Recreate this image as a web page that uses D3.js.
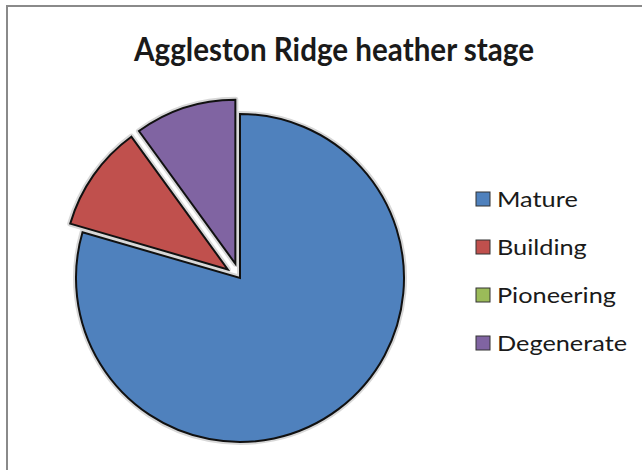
<!DOCTYPE html>
<html>
<head>
<meta charset="utf-8">
<script src="https://cdn.jsdelivr.net/npm/d3@7"></script>
<style>
html,body{margin:0;padding:0;background:#fff;}
svg{display:block;}
</style>
</head>
<body>
<script>
const title = "Aggleston Ridge heather stage";
const categories = ["Mature", "Building", "Pioneering", "Degenerate"];
const values = [79.5, 10.5, 0, 10];
const colors = ["#4F81BD", "#C0504D", "#9BBB59", "#8064A2"];
const explodedCategories = ["Building", "Degenerate"];

const W = 642, H = 470;
const svg = d3.select("body").append("svg").attr("width", W).attr("height", H);

// chart border (right/bottom edges fall outside the frame)
svg.append("rect").attr("x", 7).attr("y", 6).attr("width", W + 20).attr("height", H + 20)
  .attr("fill", "#fff").attr("stroke", "#8a8a8a").attr("stroke-width", 2);

svg.append("text").attr("x", 134).attr("y", 61)
  .attr("font-family", "Lato, 'Open Sans', sans-serif").attr("font-weight", "bold")
  .attr("font-size", 32).attr("fill", "#1a1a1a")
  .attr("textLength", 400).attr("lengthAdjust", "spacingAndGlyphs")
  .text(title);

const cx = 240, cy = 278, r = 164, explodeDist = 15;
const data = categories.map((c, i) => ({cat: c, value: values[i], color: colors[i]}));
const pie = d3.pie().sort(null).value(d => d.value);
const arcs = pie(data);
const arc = d3.arc().innerRadius(0).outerRadius(r);

const g = svg.append("g").attr("transform", `translate(${cx},${cy})`);
function offset(d) {
  if (!explodedCategories.includes(d.data.cat)) return [0, 0];
  const a = (d.startAngle + d.endAngle) / 2;
  return [Math.sin(a) * explodeDist, -Math.cos(a) * explodeDist];
}
g.selectAll("path.shadow").data(arcs.filter(d => d.value > 0)).join("path")
  .attr("class", "shadow")
  .attr("d", arc)
  .attr("transform", d => { const o = offset(d); return `translate(${o[0]},${o[1]})`; })
  .attr("fill", "none").attr("stroke", "#d8d8d8").attr("stroke-width", 6)
  .attr("stroke-linejoin", "round");
g.selectAll("path.slice").data(arcs.filter(d => d.value > 0)).join("path")
  .attr("class", "slice")
  .attr("d", arc)
  .attr("transform", d => { const o = offset(d); return `translate(${o[0]},${o[1]})`; })
  .attr("fill", d => d.data.color).attr("stroke", "#111").attr("stroke-width", 2)
  .attr("stroke-linejoin", "miter");

// legend
const legY = d3.scalePoint().domain(categories).range([199, 343]);
const leg = svg.append("g");
const items = leg.selectAll("g").data(data).join("g")
  .attr("transform", d => `translate(476,${legY(d.cat)})`);
items.append("rect").attr("x", 0).attr("y", -7).attr("width", 14).attr("height", 14)
  .attr("fill", d => d.color).attr("stroke", "#333").attr("stroke-width", 1);
items.append("text").attr("x", 21).attr("y", 8)
  .attr("font-family", "Lato, 'Open Sans', sans-serif").attr("font-size", 22)
  .attr("fill", "#1a1a1a")
  .text(d => d.cat)
  .each(function () {
    const w = this.getComputedTextLength();
    d3.select(this).attr("textLength", w * 1.15).attr("lengthAdjust", "spacingAndGlyphs");
  });
</script>
</body>
</html>
